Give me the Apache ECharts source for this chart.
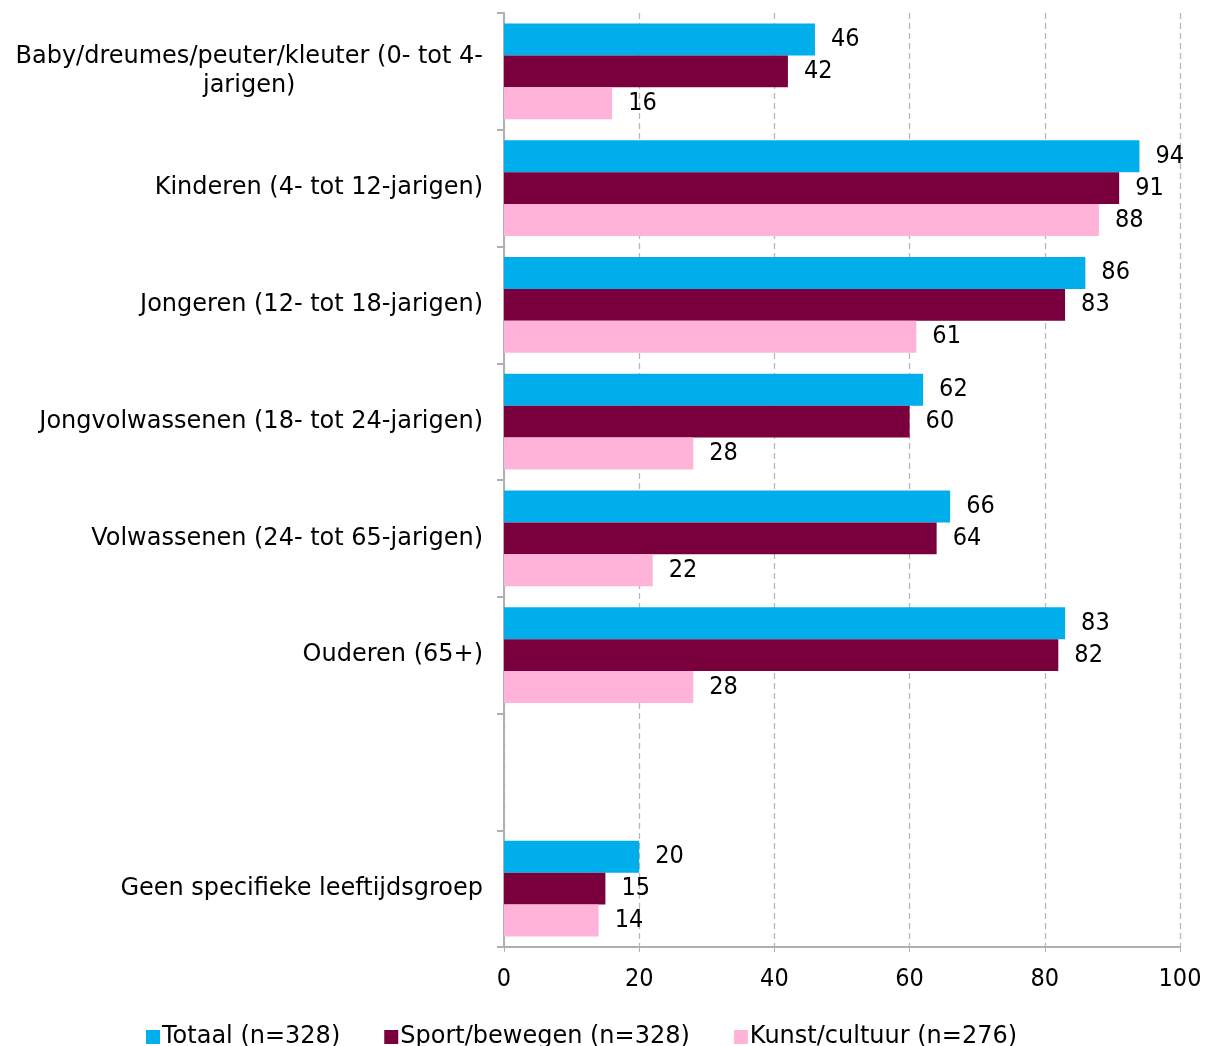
<!DOCTYPE html>
<html>
<head>
<meta charset="utf-8">
<script src="https://cdn.jsdelivr.net/npm/echarts@6/dist/echarts.min.js"></script>
<style>
  html, body { margin: 0; padding: 0; background: #fff; }
  #chart { width: 1214px; height: 1046px; }
</style>
</head>
<body>
<div id="chart"></div>
<script>
  const categories = [
    'Baby/dreumes/peuter/kleuter (0- tot 4-\njarigen)',
    'Kinderen (4- tot 12-jarigen)',
    'Jongeren (12- tot 18-jarigen)',
    'Jongvolwassenen (18- tot 24-jarigen)',
    'Volwassenen (24- tot 65-jarigen)',
    'Ouderen (65+)',
    '',
    'Geen specifieke leeftijdsgroep',
  ];
  const totaal = [46, 94, 86, 62, 66, 83, '-', 20];
  const sport = [42, 91, 83, 60, 64, 82, '-', 15];
  const kunst = [16, 88, 61, 28, 22, 28, '-', 14];
  const seriesNames = ['Totaal (n=328)', 'Sport/bewegen (n=328)', 'Kunst/cultuur (n=276)'];
  const xTicks = [0, 20, 40, 60, 80, 100];

  const font = 'DejaVu Sans';
  // getallen iets smaller/hoger, zoals in het origineel
  const numFont = '"DejaVu Sans Condensed", "DejaVu Sans"';
  const colors = ['#00AEEC', '#7A003D', '#FFB3D9'];

  const chart = echarts.init(document.getElementById('chart'));

  const mkSeries = (name, data, i) => ({
    name: name,
    type: 'bar',
    data: data,
    barGap: '0%',
    barCategoryGap: '18%',
    itemStyle: { color: colors[i] },
    label: {
      show: true,
      position: 'right',
      distance: 16,
      color: '#000',
      fontFamily: numFont,
      fontSize: 25,
    },
  });

  chart.setOption({
    animation: false,
    color: colors,
    grid: { left: 504, right: 34, top: 13, bottom: 99, containLabel: false },
    legend: {
      top: 1020,
      left: 141,
      itemWidth: 14,
      itemHeight: 14,
      itemGap: 44,
      icon: 'rect',
      textStyle: { fontFamily: font, fontSize: 24, color: '#000', padding: [0, 0, 0, -3] },
      data: seriesNames,
    },
    xAxis: {
      type: 'value',
      min: xTicks[0],
      max: xTicks[xTicks.length - 1],
      interval: 20,
      axisLine: { show: true, lineStyle: { color: '#b0b0b0', width: 2 } },
      axisTick: { show: true, length: 5, lineStyle: { color: '#b0b0b0' } },
      axisLabel: { margin: 20, color: '#000', fontFamily: numFont, fontSize: 25 },
      splitLine: { show: true, lineStyle: { color: '#b8b8b8', type: [6, 4], width: 1.3 } },
    },
    yAxis: {
      type: 'category',
      inverse: true,
      data: categories,
      axisLine: { show: true, lineStyle: { color: '#b0b0b0', width: 2 } },
      axisTick: { show: true, length: 7, lineStyle: { color: '#b0b0b0', width: 2 } },
      axisLabel: {
        margin: 21,
        color: '#000',
        fontFamily: font,
        fontSize: 24,
        lineHeight: 29,
        formatter: (v) => v.split('\n').map((l) => '{c|' + l + '}').join('\n'),
        rich: { c: { align: 'center', fontFamily: font, fontSize: 24, lineHeight: 29, color: '#000' } },
      },
    },
    series: [
      mkSeries(seriesNames[0], totaal, 0),
      mkSeries(seriesNames[1], sport, 1),
      mkSeries(seriesNames[2], kunst, 2),
    ],
  });
</script>
</body>
</html>
